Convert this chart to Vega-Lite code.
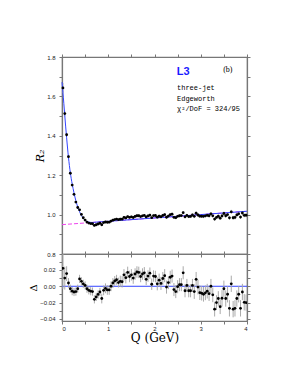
{
  "$schema": "https://vega.github.io/schema/vega-lite/v6.json",
  "padding": {"left": 28, "top": 52, "right": 5, "bottom": 5},
  "spacing": 0,
  "bounds": "flush",
  "background": "white",
  "config": {
    "view": {"stroke": "#777", "strokeWidth": 1.2},
    "axis": {"domainColor": "#777", "domainWidth": 1.2, "tickColor": "#777", "tickSize": 3, "tickWidth": 1, "labelFont": "Liberation Sans", "labelFontSize": 6, "labelColor": "#222", "grid": false, "labelOverlap": false}
  },
  "datasets": {
    "pts": [
      {"Q":0.02,"R":1.643,"D":0.022,"e":0.025},
      {"Q":0.06,"R":1.513,"D":0.010,"e":0.014},
      {"Q":0.10,"R":1.4055,"D":0.0155,"e":0.009},
      {"Q":0.14,"R":1.294,"D":0.004,"e":0.006},
      {"Q":0.18,"R":1.210,"D":-0.003,"e":0.005},
      {"Q":0.22,"R":1.150,"D":-0.006,"e":0.005},
      {"Q":0.26,"R":1.103,"D":-0.007,"e":0.005},
      {"Q":0.30,"R":1.0635,"D":-0.0065,"e":0.005},
      {"Q":0.34,"R":1.036,"D":-0.003,"e":0.005},
      {"Q":0.38,"R":1.024,"D":0.009,"e":0.005},
      {"Q":0.42,"R":1.001,"D":0.006,"e":0.005},
      {"Q":0.46,"R":0.984,"D":0.003,"e":0.005},
      {"Q":0.50,"R":0.972,"D":0.001,"e":0.005},
      {"Q":0.54,"R":0.962,"D":-0.003,"e":0.005},
      {"Q":0.58,"R":0.957,"D":-0.005,"e":0.005},
      {"Q":0.62,"R":0.9545,"D":-0.006,"e":0.005},
      {"Q":0.66,"R":0.9535,"D":-0.0065,"e":0.005},
      {"Q":0.70,"R":0.945,"D":-0.016,"e":0.005},
      {"Q":0.74,"R":0.9486,"D":-0.013,"e":0.005},
      {"Q":0.78,"R":0.9523,"D":-0.010,"e":0.005},
      {"Q":0.82,"R":0.9559,"D":-0.007,"e":0.005},
      {"Q":0.86,"R":0.9486,"D":-0.015,"e":0.006},
      {"Q":0.90,"R":0.9593,"D":-0.005,"e":0.006},
      {"Q":0.94,"R":0.9625,"D":-0.0025,"e":0.006},
      {"Q":0.98,"R":0.9612,"D":-0.0045,"e":0.006},
      {"Q":1.02,"R":0.9618,"D":-0.0045,"e":0.006},
      {"Q":1.06,"R":0.9670,"D":0.000,"e":0.006},
      {"Q":1.10,"R":0.9717,"D":0.004,"e":0.006},
      {"Q":1.14,"R":0.9749,"D":0.0065,"e":0.006},
      {"Q":1.18,"R":0.9771,"D":0.008,"e":0.006},
      {"Q":1.22,"R":0.9742,"D":0.0045,"e":0.006},
      {"Q":1.26,"R":0.9764,"D":0.006,"e":0.007},
      {"Q":1.30,"R":0.9766,"D":0.0055,"e":0.007},
      {"Q":1.34,"R":0.9858,"D":0.014,"e":0.007},
      {"Q":1.38,"R":0.9830,"D":0.0105,"e":0.007},
      {"Q":1.42,"R":0.9901,"D":0.017,"e":0.007},
      {"Q":1.46,"R":0.9858,"D":0.012,"e":0.007},
      {"Q":1.50,"R":0.9885,"D":0.014,"e":0.007},
      {"Q":1.54,"R":0.9852,"D":0.010,"e":0.007},
      {"Q":1.58,"R":0.9909,"D":0.015,"e":0.007},
      {"Q":1.62,"R":0.9940,"D":0.0175,"e":0.007},
      {"Q":1.66,"R":0.9942,"D":0.017,"e":0.007},
      {"Q":1.70,"R":0.9899,"D":0.012,"e":0.007},
      {"Q":1.74,"R":0.9936,"D":0.015,"e":0.007},
      {"Q":1.78,"R":0.9958,"D":0.0165,"e":0.007},
      {"Q":1.82,"R":0.9884,"D":0.0085,"e":0.007},
      {"Q":1.86,"R":0.9931,"D":0.0125,"e":0.007},
      {"Q":1.90,"R":0.9973,"D":0.016,"e":0.007},
      {"Q":1.94,"R":0.9845,"D":0.0025,"e":0.007},
      {"Q":1.98,"R":0.9952,"D":0.0125,"e":0.007},
      {"Q":2.02,"R":0.9953,"D":0.012,"e":0.007},
      {"Q":2.06,"R":0.9870,"D":0.003,"e":0.008},
      {"Q":2.10,"R":0.9922,"D":0.0075,"e":0.008},
      {"Q":2.14,"R":0.9889,"D":0.0035,"e":0.008},
      {"Q":2.18,"R":0.9956,"D":0.0095,"e":0.008},
      {"Q":2.22,"R":0.9997,"D":0.013,"e":0.008},
      {"Q":2.26,"R":0.9864,"D":-0.001,"e":0.008},
      {"Q":2.30,"R":0.9926,"D":0.0045,"e":0.008},
      {"Q":2.34,"R":0.9998,"D":0.011,"e":0.008},
      {"Q":2.38,"R":1.0020,"D":0.0125,"e":0.008},
      {"Q":2.42,"R":0.9861,"D":-0.004,"e":0.008},
      {"Q":2.46,"R":0.9843,"D":-0.0065,"e":0.008},
      {"Q":2.50,"R":0.9910,"D":-0.0005,"e":0.008},
      {"Q":2.54,"R":0.9942,"D":0.002,"e":0.008},
      {"Q":2.58,"R":0.9949,"D":0.002,"e":0.008},
      {"Q":2.62,"R":1.0100,"D":0.0165,"e":0.008},
      {"Q":2.66,"R":0.9887,"D":-0.0055,"e":0.008},
      {"Q":2.70,"R":0.9959,"D":0.001,"e":0.008},
      {"Q":2.74,"R":0.9901,"D":-0.0055,"e":0.008},
      {"Q":2.78,"R":0.9908,"D":-0.0055,"e":0.008},
      {"Q":2.82,"R":0.9979,"D":0.001,"e":0.008},
      {"Q":2.86,"R":0.9911,"D":-0.0065,"e":0.009},
      {"Q":2.90,"R":1.0068,"D":0.0085,"e":0.009},
      {"Q":2.94,"R":0.9980,"D":-0.001,"e":0.009},
      {"Q":2.98,"R":0.9919,"D":-0.0078,"e":0.009},
      {"Q":3.02,"R":0.9918,"D":-0.0085,"e":0.009},
      {"Q":3.06,"R":0.9912,"D":-0.0098,"e":0.009},
      {"Q":3.10,"R":0.9937,"D":-0.008,"e":0.009},
      {"Q":3.14,"R":0.9964,"D":-0.006,"e":0.009},
      {"Q":3.18,"R":0.9941,"D":-0.009,"e":0.009},
      {"Q":3.22,"R":1.0037,"D":0.000,"e":0.009},
      {"Q":3.26,"R":0.9939,"D":-0.0105,"e":0.009},
      {"Q":3.30,"R":0.9771,"D":-0.028,"e":0.009},
      {"Q":3.34,"R":0.9858,"D":-0.020,"e":0.009},
      {"Q":3.38,"R":0.9915,"D":-0.015,"e":0.009},
      {"Q":3.42,"R":0.9821,"D":-0.025,"e":0.009},
      {"Q":3.46,"R":0.9931,"D":-0.0147,"e":0.010},
      {"Q":3.50,"R":1.0055,"D":-0.003,"e":0.010},
      {"Q":3.54,"R":0.9942,"D":-0.015,"e":0.010},
      {"Q":3.58,"R":1.0001,"D":-0.0098,"e":0.010},
      {"Q":3.62,"R":0.9835,"D":-0.027,"e":0.010},
      {"Q":3.66,"R":1.0142,"D":0.003,"e":0.010},
      {"Q":3.70,"R":0.9839,"D":-0.028,"e":0.010},
      {"Q":3.74,"R":0.9856,"D":-0.027,"e":0.010},
      {"Q":3.78,"R":0.9983,"D":-0.015,"e":0.010},
      {"Q":3.82,"R":1.0041,"D":-0.0098,"e":0.010},
      {"Q":3.86,"R":0.9876,"D":-0.027,"e":0.010},
      {"Q":3.90,"R":1.0083,"D":-0.007,"e":0.010},
      {"Q":3.94,"R":0.9964,"D":-0.0196,"e":0.010},
      {"Q":3.98,"R":0.9967,"D":-0.020,"e":0.010}
    ],
    "fit": [
      {"Q":0.00,"F":1.672},{"Q":0.02,"F":1.621},{"Q":0.04,"F":1.563},{"Q":0.06,"F":1.503},
      {"Q":0.08,"F":1.445},{"Q":0.10,"F":1.390},{"Q":0.12,"F":1.338},{"Q":0.14,"F":1.290},
      {"Q":0.16,"F":1.249},{"Q":0.18,"F":1.213},{"Q":0.20,"F":1.182},{"Q":0.22,"F":1.156},
      {"Q":0.24,"F":1.132},{"Q":0.26,"F":1.110},{"Q":0.28,"F":1.089},{"Q":0.30,"F":1.070},
      {"Q":0.32,"F":1.054},{"Q":0.34,"F":1.039},{"Q":0.36,"F":1.026},{"Q":0.38,"F":1.015},
      {"Q":0.40,"F":1.004},{"Q":0.42,"F":0.995},{"Q":0.44,"F":0.988},{"Q":0.46,"F":0.981},
      {"Q":0.48,"F":0.976},{"Q":0.50,"F":0.971},{"Q":0.54,"F":0.965},{"Q":0.58,"F":0.962},
      {"Q":0.62,"F":0.9605},{"Q":0.66,"F":0.960},{"Q":0.70,"F":0.961},{"Q":1.00,"F":0.966},
      {"Q":2.00,"F":0.983},{"Q":3.00,"F":1.000},{"Q":4.00,"F":1.017}
    ],
    "base": [{"Q":0,"L":0.949},{"Q":4,"L":1.017}],
    "zero": [{"Q":0,"Z":0},{"Q":4,"Z":0}]
  },
  "vconcat": [
    {
      "width": 185,
      "height": 197,
      "resolve": {"axis": {"x": "independent", "y": "independent"}},
      "layer": [
        {
          "mark": {"type": "rule", "color": "#ff8080", "strokeDash": [1, 1.5], "strokeWidth": 1},
          "encoding": {"y": {"datum": 1.0, "type": "quantitative", "scale": {"domain": [0.8, 1.8], "nice": false, "zero": false}, "axis": null}}
        },
        {
          "data": {"name": "base"},
          "mark": {"type": "line", "color": "#ee44ee", "strokeDash": [4, 2], "strokeWidth": 1},
          "encoding": {
            "x": {"field": "Q", "type": "quantitative", "scale": {"domain": [0, 4], "nice": false}, "axis": null},
            "y": {"field": "L", "type": "quantitative", "scale": {"domain": [0.8, 1.8], "nice": false, "zero": false}, "axis": null}
          }
        },
        {
          "data": {"name": "pts"},
          "mark": {"type": "errorbar", "color": "#aaaaaa", "clip": true},
          "encoding": {
            "x": {"field": "Q", "type": "quantitative", "scale": {"domain": [0, 4], "nice": false}, "axis": null},
            "y": {"field": "R", "type": "quantitative", "scale": {"domain": [0.8, 1.8], "nice": false, "zero": false}, "axis": null},
            "yError": {"field": "e"}
          }
        },
        {
          "data": {"name": "fit"},
          "mark": {"type": "line", "color": "#3344ff", "strokeWidth": 1, "interpolate": "monotone"},
          "encoding": {
            "x": {"field": "Q", "type": "quantitative", "scale": {"domain": [0, 4], "nice": false},
                  "axis": {"orient": "top", "values": [0,0.5,1,1.5,2,2.5,3,3.5,4], "labels": false, "title": null}},
            "y": {"field": "F", "type": "quantitative", "scale": {"domain": [0.8, 1.8], "nice": false, "zero": false},
                  "axis": {"orient": "right", "values": [0.8,0.9,1.0,1.1,1.2,1.3,1.4,1.5,1.6,1.7,1.8], "labels": false, "title": null}}
          }
        },
        {
          "data": {"name": "pts"},
          "mark": {"type": "point", "filled": true, "color": "#000", "size": 8, "opacity": 1},
          "encoding": {
            "x": {"field": "Q", "type": "quantitative", "scale": {"domain": [0, 4], "nice": false},
                  "axis": {"orient": "bottom", "values": [0,0.5,1,1.5,2,2.5,3,3.5,4], "labels": false, "title": null}},
            "y": {"field": "R", "type": "quantitative", "scale": {"domain": [0.8, 1.8], "nice": false, "zero": false},
                  "axis": {"orient": "left", "values": [0.8,0.9,1.0,1.1,1.2,1.3,1.4,1.5,1.6,1.7,1.8],
                           "labelExpr": "round(datum.value*10) % 2 == 0 ? format(datum.value, '.1f') : ''",
                           "labelPadding": 4, "title": "R₂", "titleFont": "DejaVu Serif", "titleFontSize": 11,
                           "titleFontWeight": "normal", "titleFontStyle": "italic", "titlePadding": 1, "titleColor": "#000"}}
          }
        },
        {
          "data": {"values": [{"Q": 2.62, "R": 1.707, "t": "L3"}]},
          "mark": {"type": "text", "font": "Liberation Sans", "fontWeight": "bold", "fontSize": 11, "color": "#1a1aff", "align": "center", "baseline": "alphabetic"},
          "encoding": {
            "x": {"field": "Q", "type": "quantitative", "scale": {"domain": [0, 4], "nice": false}, "axis": null},
            "y": {"field": "R", "type": "quantitative", "scale": {"domain": [0.8, 1.8], "nice": false, "zero": false}, "axis": null},
            "text": {"field": "t"}
          }
        },
        {
          "data": {"values": [{"Q": 3.585, "R": 1.722, "t": "(b)"}]},
          "mark": {"type": "text", "font": "Liberation Serif", "fontSize": 8, "color": "#000", "align": "center", "baseline": "alphabetic"},
          "encoding": {
            "x": {"field": "Q", "type": "quantitative", "scale": {"domain": [0, 4], "nice": false}, "axis": null},
            "y": {"field": "R", "type": "quantitative", "scale": {"domain": [0.8, 1.8], "nice": false, "zero": false}, "axis": null},
            "text": {"field": "t"}
          }
        },
        {
          "data": {"values": [
            {"Q": 2.486, "R": 1.631, "t": "three-jet"},
            {"Q": 2.486, "R": 1.578, "t": "Edgeworth"},
            {"Q": 2.486, "R": 1.527, "t": "χ²/DoF = 324/95"}
          ]},
          "mark": {"type": "text", "font": "Liberation Mono", "fontSize": 7, "color": "#000", "align": "left", "baseline": "alphabetic"},
          "encoding": {
            "x": {"field": "Q", "type": "quantitative", "scale": {"domain": [0, 4], "nice": false}, "axis": null},
            "y": {"field": "R", "type": "quantitative", "scale": {"domain": [0.8, 1.8], "nice": false, "zero": false}, "axis": null},
            "text": {"field": "t"}
          }
        }
      ]
    },
    {
      "width": 185,
      "height": 67,
      "resolve": {"axis": {"x": "independent", "y": "independent"}},
      "layer": [
        {
          "data": {"name": "zero"},
          "mark": {"type": "line", "color": "#3344ff", "strokeWidth": 1},
          "encoding": {
            "x": {"field": "Q", "type": "quantitative", "scale": {"domain": [0, 4], "nice": false},
                  "axis": {"orient": "top", "values": [0,0.5,1,1.5,2,2.5,3,3.5,4], "labels": false, "title": null}},
            "y": {"field": "Z", "type": "quantitative", "scale": {"domain": [-0.0425, 0.0395], "nice": false, "zero": false},
                  "axis": {"orient": "right", "values": [-0.04,-0.03,-0.02,-0.01,0,0.01,0.02,0.03], "labels": false, "title": null}}
          }
        },
        {
          "data": {"name": "pts"},
          "mark": {"type": "errorbar", "color": "#aaaaaa", "clip": true},
          "encoding": {
            "x": {"field": "Q", "type": "quantitative", "scale": {"domain": [0, 4], "nice": false}, "axis": null},
            "y": {"field": "D", "type": "quantitative", "scale": {"domain": [-0.0425, 0.0395], "nice": false, "zero": false}, "axis": null},
            "yError": {"field": "e"}
          }
        },
        {
          "data": {"name": "pts"},
          "mark": {"type": "point", "filled": true, "color": "#000", "size": 8, "opacity": 1, "clip": true},
          "encoding": {
            "x": {"field": "Q", "type": "quantitative", "scale": {"domain": [0, 4], "nice": false},
                  "axis": {"orient": "bottom", "values": [0,0.5,1,1.5,2,2.5,3,3.5,4],
                           "labelExpr": "datum.value % 1 == 0 ? format(datum.value, 'd') : ''",
                           "labelPadding": 1, "title": "Q (GeV)", "titleFont": "DejaVu Serif", "titleFontSize": 12,
                           "titleFontWeight": "normal", "titlePadding": 1, "titleColor": "#000"}},
            "y": {"field": "D", "type": "quantitative", "scale": {"domain": [-0.0425, 0.0395], "nice": false, "zero": false},
                  "axis": {"orient": "left", "values": [-0.04,-0.03,-0.02,-0.01,0,0.01,0.02,0.03],
                           "labelExpr": "abs(round(datum.value*100)) % 2 == 0 ? format(datum.value, '.2f') : ''",
                           "labelPadding": 4, "title": "Δ", "titleFont": "DejaVu Serif", "titleFontSize": 10,
                           "titleFontWeight": "normal", "titlePadding": 1, "titleColor": "#000"}}
          }
        }
      ]
    }
  ]
}
